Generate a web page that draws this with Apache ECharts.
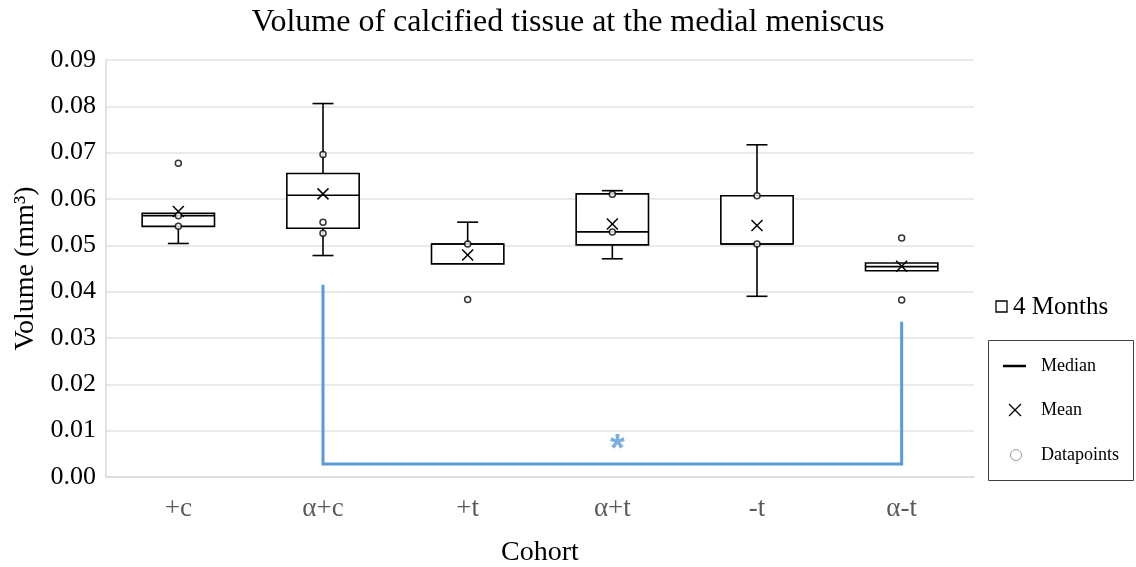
<!DOCTYPE html>
<html>
<head>
<meta charset="utf-8">
<script src="https://cdn.jsdelivr.net/npm/echarts@6/dist/echarts.min.js"></script>
<style>
  html, body { margin: 0; padding: 0; background: #fff; }
  #chart { width: 1136px; height: 567px; }
</style>
</head>
<body>
<div id="chart"></div>
<script>
// Cohorts along the x axis
const categories = ['+c', 'α+c', '+t', 'α+t', '-t', 'α-t'];

// Box statistics per cohort (mm³)
const whiskerLow  = [0.0504, 0.0478, 0.0460, 0.0471, 0.0390, 0.0445];
const quartile1   = [0.0541, 0.0537, 0.0460, 0.0501, 0.0503, 0.0445];
const medians     = [0.0564, 0.0608, 0.0503, 0.0529, 0.0503, 0.0454];
const quartile3   = [0.0569, 0.0655, 0.0503, 0.0611, 0.0607, 0.0462];
const whiskerHigh = [0.0569, 0.0806, 0.0550, 0.0618, 0.0717, 0.0462];
const means       = [0.0573, 0.0611, 0.0479, 0.0546, 0.0543, 0.0455];

// Individual data points drawn as circles
const pointsPlusC   = [0.0677, 0.0564, 0.0541];
const pointsAlphaC  = [0.0696, 0.0550, 0.0526];
const pointsPlusT   = [0.0503, 0.0383];
const pointsAlphaT  = [0.0610, 0.0529];
const pointsMinusT  = [0.0607, 0.0503];
const pointsAlphaMT = [0.0516, 0.0382];

// Significance bracket between α+c and α-t
const bracketCats   = [1, 1, 5, 5];
const bracketValues = [0.0415, 0.0028, 0.0028, 0.0335];
const starCat = 3;
const starValue = 0.0057;

// Y axis ticks
const yMin = 0, yMax = 0.09, yStep = 0.01;

const pointGroups = [pointsPlusC, pointsAlphaC, pointsPlusT, pointsAlphaT, pointsMinusT, pointsAlphaMT];
const boxData = categories.map((c, i) => [i, whiskerLow[i], quartile1[i], medians[i], quartile3[i], whiskerHigh[i]]);
const meanData = means.map((m, i) => [i, m]);
const pointData = [];
pointGroups.forEach((g, i) => g.forEach(v => pointData.push([i, v])));
const bracketData = bracketCats.map((c, i) => [c, bracketValues[i]]);

const serif = 'Liberation Serif';
const blue = '#5B9BD5';

const chart = echarts.init(document.getElementById('chart'), null, { renderer: 'canvas' });

chart.setOption({
  animation: false,
  backgroundColor: '#fff',
  title: {
    text: 'Volume of calcified tissue at the medial meniscus',
    left: 'center',
    top: 2,
    textStyle: { fontFamily: serif, fontSize: 32, fontWeight: 'normal', color: '#000' }
  },
  grid: { left: 106, right: 162, top: 60, bottom: 90, outerBoundsMode: 'none', containLabel: false },
  xAxis: {
    type: 'category',
    data: categories,
    boundaryGap: true,
    name: 'Cohort',
    nameLocation: 'middle',
    nameGap: 62,
    nameTextStyle: { fontFamily: serif, fontSize: 28, color: '#000' },
    axisLine: { lineStyle: { color: '#d9d9d9', width: 1.5 } },
    axisTick: { show: false },
    axisLabel: { fontFamily: serif, fontSize: 27, color: '#595959', margin: 18 },
    splitLine: { show: false }
  },
  yAxis: {
    type: 'value',
    min: yMin,
    max: yMax,
    interval: yStep,
    name: 'Volume (mm³)',
    nameLocation: 'middle',
    nameGap: 66,
    nameTextStyle: { fontFamily: serif, fontSize: 28, color: '#000' },
    axisLine: { show: true, lineStyle: { color: '#d9d9d9', width: 1.5 } },
    axisTick: { show: false },
    axisLabel: {
      fontFamily: serif, fontSize: 26, color: '#000', margin: 10,
      formatter: v => v.toFixed(2)
    },
    splitLine: { lineStyle: { color: '#e3e3e3', width: 1.5 } }
  },
  series: [
    {
      // Boxes, medians and whiskers
      type: 'custom',
      data: boxData,
      encode: { x: 0, y: [1, 2, 3, 4, 5] },
      z: 3,
      renderItem: function (params, api) {
        const i = api.value(0);
        const lo = api.coord([i, api.value(1)]);
        const q1 = api.coord([i, api.value(2)]);
        const md = api.coord([i, api.value(3)]);
        const q3 = api.coord([i, api.value(4)]);
        const hi = api.coord([i, api.value(5)]);
        const band = api.size([1, 0])[0];
        const bw = band * 0.5;
        const cw = band * 0.145;
        const x = q1[0];
        const st = { stroke: '#000', lineWidth: 1.6, fill: null };
        const children = [];
        if (hi[1] < q3[1] - 0.5) {
          children.push({ type: 'line', shape: { x1: x, y1: q3[1], x2: x, y2: hi[1] }, style: st });
          children.push({ type: 'line', shape: { x1: x - cw / 2, y1: hi[1], x2: x + cw / 2, y2: hi[1] }, style: st });
        }
        if (lo[1] > q1[1] + 0.5) {
          children.push({ type: 'line', shape: { x1: x, y1: q1[1], x2: x, y2: lo[1] }, style: st });
          children.push({ type: 'line', shape: { x1: x - cw / 2, y1: lo[1], x2: x + cw / 2, y2: lo[1] }, style: st });
        }
        children.push({
          type: 'rect',
          shape: { x: x - bw / 2, y: q3[1], width: bw, height: q1[1] - q3[1] },
          style: { stroke: '#000', lineWidth: 1.6, fill: '#fff' }
        });
        children.push({ type: 'line', shape: { x1: x - bw / 2, y1: md[1], x2: x + bw / 2, y2: md[1] }, style: st });
        return { type: 'group', children: children };
      }
    },
    {
      // Means as crosses
      type: 'custom',
      data: meanData,
      encode: { x: 0, y: 1 },
      z: 4,
      renderItem: function (params, api) {
        const p = api.coord([api.value(0), api.value(1)]);
        const r = 5.5;
        const st = { stroke: '#000', lineWidth: 1.5 };
        return {
          type: 'group',
          children: [
            { type: 'line', shape: { x1: p[0] - r, y1: p[1] - r, x2: p[0] + r, y2: p[1] + r }, style: st },
            { type: 'line', shape: { x1: p[0] - r, y1: p[1] + r, x2: p[0] + r, y2: p[1] - r }, style: st }
          ]
        };
      }
    },
    {
      // Individual data points
      type: 'scatter',
      data: pointData,
      symbol: 'circle',
      symbolSize: 6,
      z: 5,
      itemStyle: { color: '#fff', borderColor: '#000', borderWidth: 1.5 }
    },
    {
      // Significance bracket
      type: 'custom',
      data: bracketData,
      encode: { x: 0, y: 1 },
      z: 2,
      renderItem: function (params, api) {
        if (params.dataIndex !== 0) return null;
        const pts = bracketData.map(d => api.coord(d));
        return {
          type: 'polyline',
          shape: { points: pts },
          style: { stroke: blue, lineWidth: 3, fill: null, lineJoin: 'miter' }
        };
      }
    },
    {
      type: 'scatter',
      data: [[starCat, starValue]],
      symbolSize: 0,
      z: 2,
      label: {
        show: true,
        position: 'inside',
        offset: [5, 0],
        formatter: '*',
        fontFamily: 'Liberation Sans',
        fontSize: 38,
        fontWeight: 'bold',
        color: blue
      }
    }
  ],
  graphic: [
    // Series key
    { type: 'rect', shape: { x: 996, y: 301, width: 11, height: 11 }, style: { fill: '#fff', stroke: '#000', lineWidth: 1.3 } },
    { type: 'text', x: 1013, y: 307, style: { text: '4 Months', fontFamily: serif, fontSize: 25, fill: '#000', textVerticalAlign: 'middle' } },
    // Marker key
    { type: 'rect', shape: { x: 988.5, y: 340.5, width: 145, height: 140 }, style: { fill: '#fff', stroke: '#404040', lineWidth: 1 } },
    { type: 'line', shape: { x1: 1003, y1: 366, x2: 1026, y2: 366 }, style: { stroke: '#000', lineWidth: 2.5 } },
    { type: 'text', x: 1041, y: 366, style: { text: 'Median', fontFamily: serif, fontSize: 18, fill: '#000', textVerticalAlign: 'middle' } },
    { type: 'line', shape: { x1: 1009, y1: 404, x2: 1021, y2: 416 }, style: { stroke: '#000', lineWidth: 1.3 } },
    { type: 'line', shape: { x1: 1009, y1: 416, x2: 1021, y2: 404 }, style: { stroke: '#000', lineWidth: 1.3 } },
    { type: 'text', x: 1041, y: 410, style: { text: 'Mean', fontFamily: serif, fontSize: 18, fill: '#000', textVerticalAlign: 'middle' } },
    { type: 'circle', shape: { cx: 1016, cy: 455, r: 5.5 }, style: { fill: '#fff', stroke: '#999', lineWidth: 1 } },
    { type: 'text', x: 1041, y: 455, style: { text: 'Datapoints', fontFamily: serif, fontSize: 18, fill: '#000', textVerticalAlign: 'middle' } }
  ]
});
</script>
</body>
</html>
